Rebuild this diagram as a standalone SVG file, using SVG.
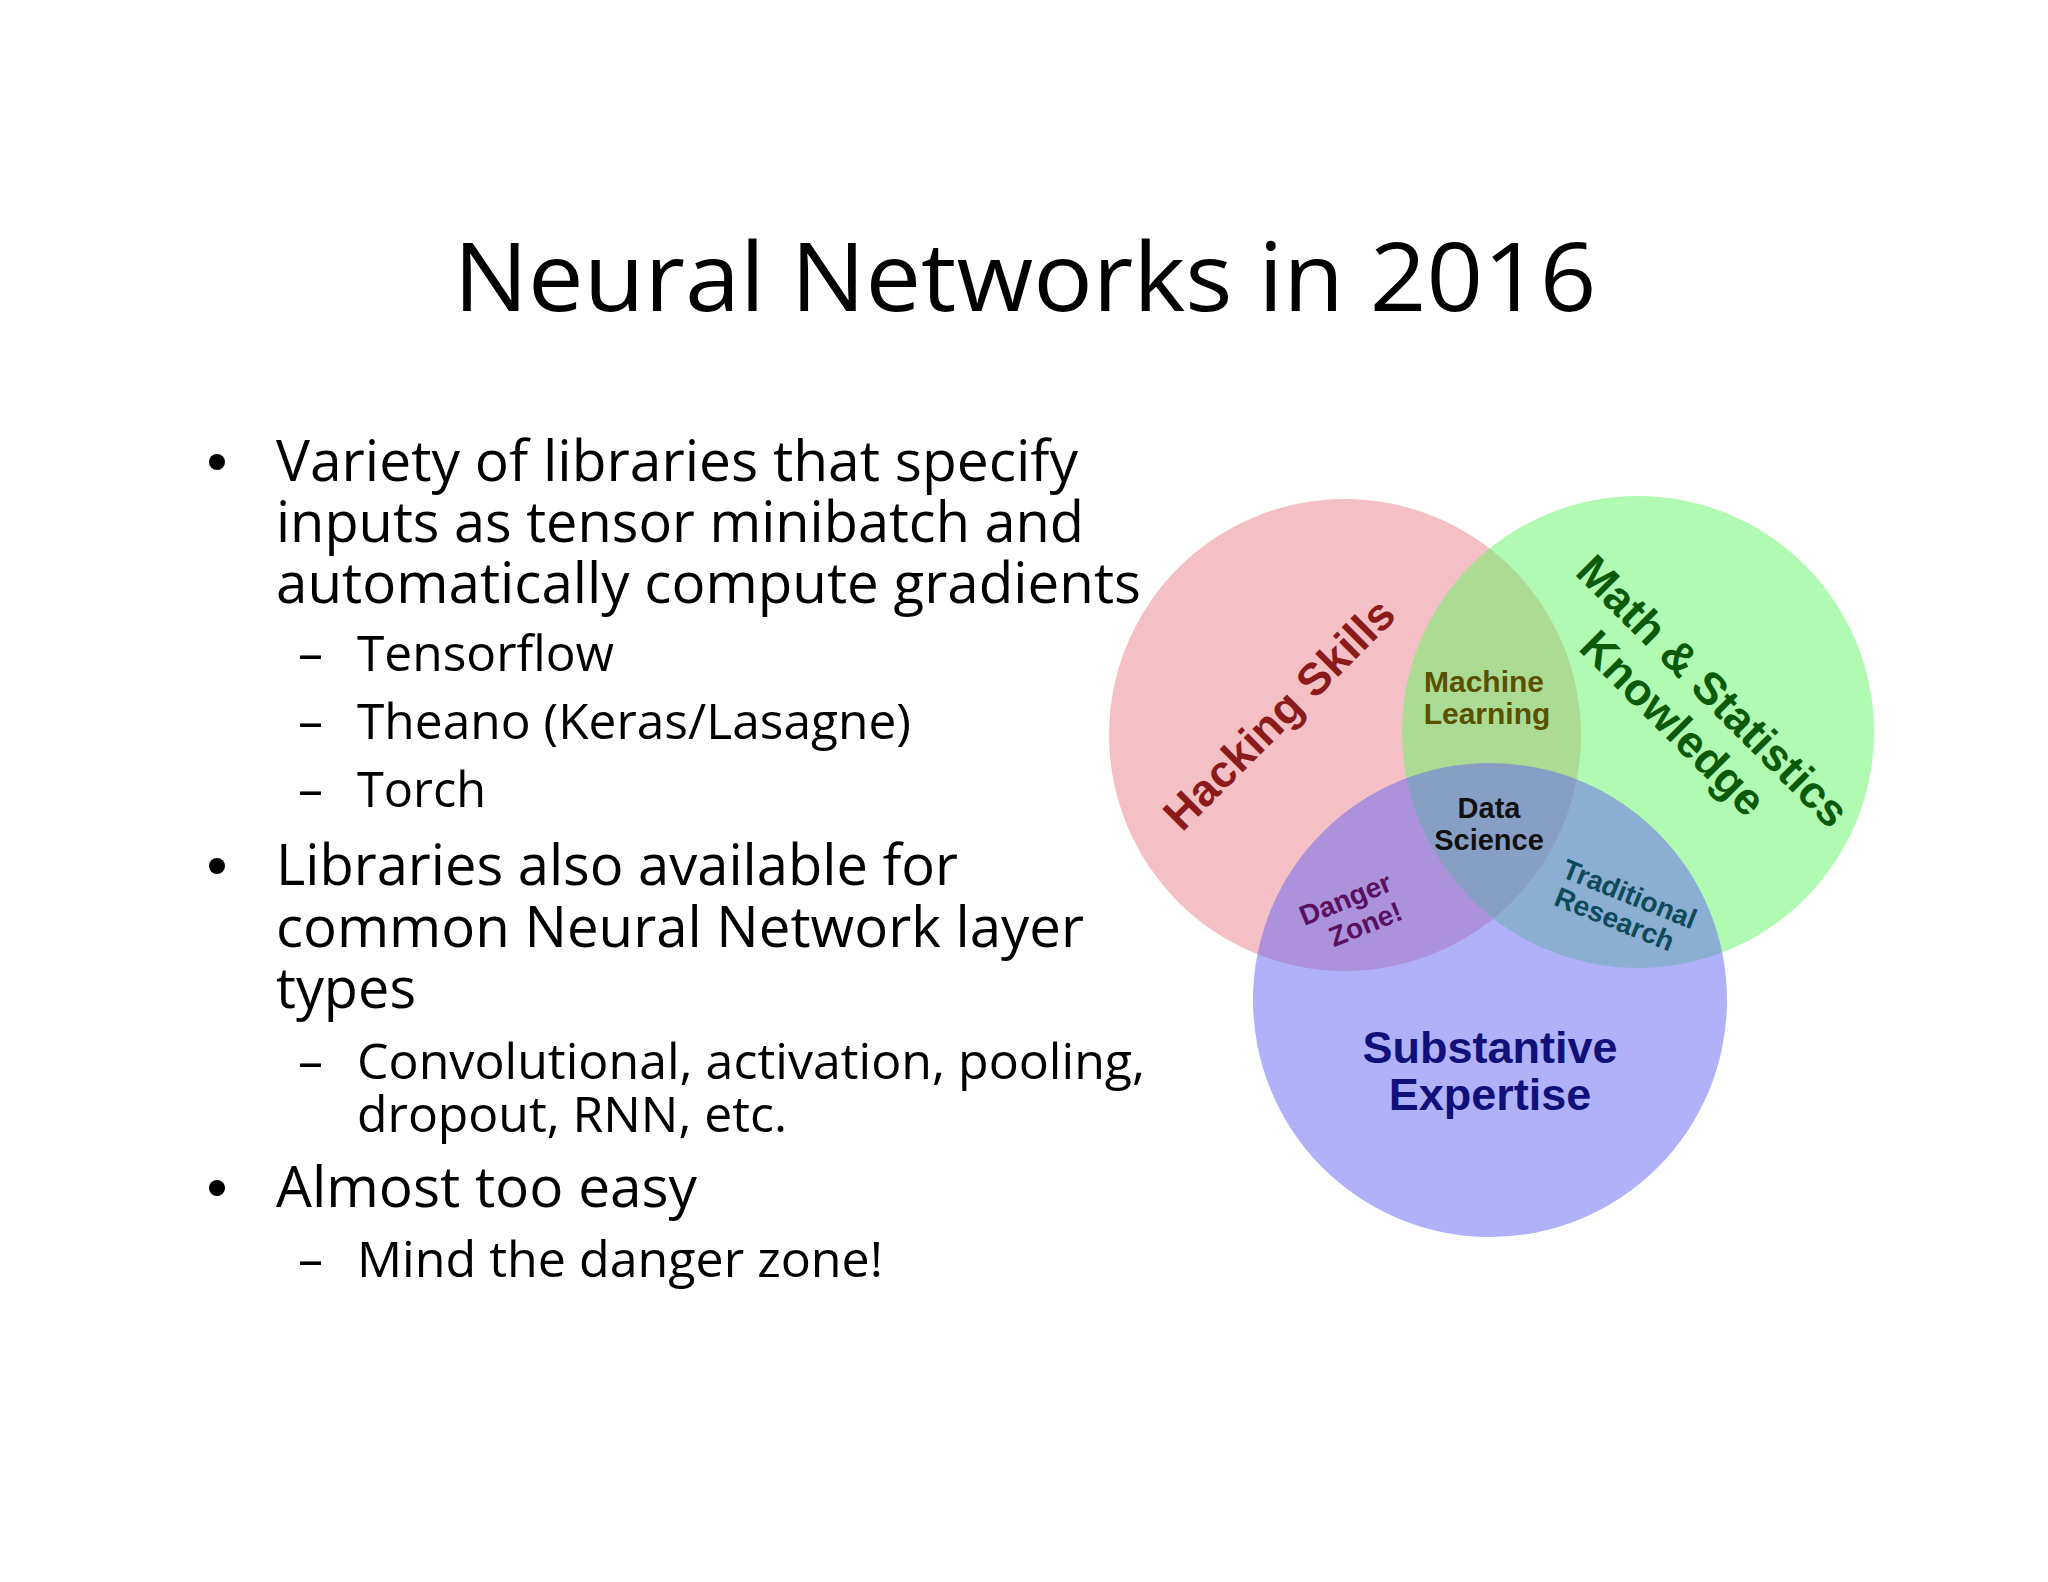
<svg xmlns="http://www.w3.org/2000/svg" width="2048" height="1582" viewBox="0 0 2048 1582">
<style>
.t{font-family:"Open Sans","Liberation Sans",sans-serif;fill:#000}
.b{font-size:56px}
.s{font-size:50px}
.v{font-family:"Liberation Sans",Arial,sans-serif;font-weight:bold;text-anchor:middle}
</style>
<rect width="2048" height="1582" fill="#fff"/>
<g id="title"><text class="t" x="1025" y="311" font-size="96" text-anchor="middle" textLength="1143" lengthAdjust="spacingAndGlyphs">Neural Networks in 2016</text></g>
<g id="bullets">
<circle cx="217" cy="462" r="8"/><circle cx="217" cy="866" r="8"/><circle cx="217" cy="1188" r="8"/>
<text class="t b" x="276" y="481" textLength="802" lengthAdjust="spacingAndGlyphs">Variety of libraries that specify</text>
<text class="t b" x="276" y="542" textLength="808" lengthAdjust="spacingAndGlyphs">inputs as tensor minibatch and</text>
<text class="t b" x="276" y="603" textLength="865" lengthAdjust="spacingAndGlyphs">automatically compute gradients</text>
<text class="t s" x="298" y="671">–</text><text class="t s" x="357" y="671" textLength="257" lengthAdjust="spacingAndGlyphs">Tensorflow</text>
<text class="t s" x="298" y="739">–</text><text class="t s" x="357" y="739" textLength="554" lengthAdjust="spacingAndGlyphs">Theano (Keras/Lasagne)</text>
<text class="t s" x="298" y="807">–</text><text class="t s" x="357" y="807" textLength="129" lengthAdjust="spacingAndGlyphs">Torch</text>
<text class="t b" x="276" y="885" textLength="682" lengthAdjust="spacingAndGlyphs">Libraries also available for</text>
<text class="t b" x="276" y="947" textLength="808" lengthAdjust="spacingAndGlyphs">common Neural Network layer</text>
<text class="t b" x="276" y="1008" textLength="140" lengthAdjust="spacingAndGlyphs">types</text>
<text class="t s" x="298" y="1079">–</text><text class="t s" x="357" y="1079" textLength="788" lengthAdjust="spacingAndGlyphs">Convolutional, activation, pooling,</text>
<text class="t s" x="357" y="1132" textLength="430" lengthAdjust="spacingAndGlyphs">dropout, RNN, etc.</text>
<text class="t b" x="276" y="1207" textLength="421" lengthAdjust="spacingAndGlyphs">Almost too easy</text>
<text class="t s" x="298" y="1277">–</text><text class="t s" x="357" y="1277" textLength="526" lengthAdjust="spacingAndGlyphs">Mind the danger zone!</text>
</g>
<g id="venn">
<circle id="hacking" cx="1345" cy="735" r="236" fill="rgb(235,130,140)" fill-opacity="0.5"/>
<circle id="math" cx="1638" cy="732" r="236" fill="rgb(100,245,100)" fill-opacity="0.5"/>
<circle id="substantive" cx="1490" cy="1000" r="237" fill="rgb(100,100,245)" fill-opacity="0.5"/>
<text class="v" font-size="45" fill="#8b1a1a" transform="translate(1290,725) rotate(-45)">Hacking Skills</text>
<text class="v" font-size="45" fill="#0a5a0a" transform="translate(1702,702) rotate(45)">Math &amp; Statistics</text>
<text class="v" font-size="45" fill="#0a5a0a" transform="translate(1662,734) rotate(45)">Knowledge</text>
<text class="v" font-size="30" fill="#5a5000" x="1484" y="692">Machine</text>
<text class="v" font-size="30" fill="#5a5000" x="1487" y="724">Learning</text>
<text class="v" font-size="29" fill="#111" x="1489" y="818">Data</text>
<text class="v" font-size="29" fill="#111" x="1489" y="850">Science</text>
<text class="v" font-size="28" fill="#5a1060" transform="translate(1349,908) rotate(-22)">Danger</text>
<text class="v" font-size="28" fill="#5a1060" transform="translate(1369,933) rotate(-22)">Zone!</text>
<text class="v" font-size="28" fill="#0f4a5a" transform="translate(1626,903) rotate(22)">Traditional</text>
<text class="v" font-size="28" fill="#0f4a5a" transform="translate(1611,928) rotate(22)">Research</text>
<text class="v" font-size="45" fill="#10107a" x="1490" y="1063">Substantive</text>
<text class="v" font-size="45" fill="#10107a" x="1490" y="1110">Expertise</text>
</g>
</svg>
